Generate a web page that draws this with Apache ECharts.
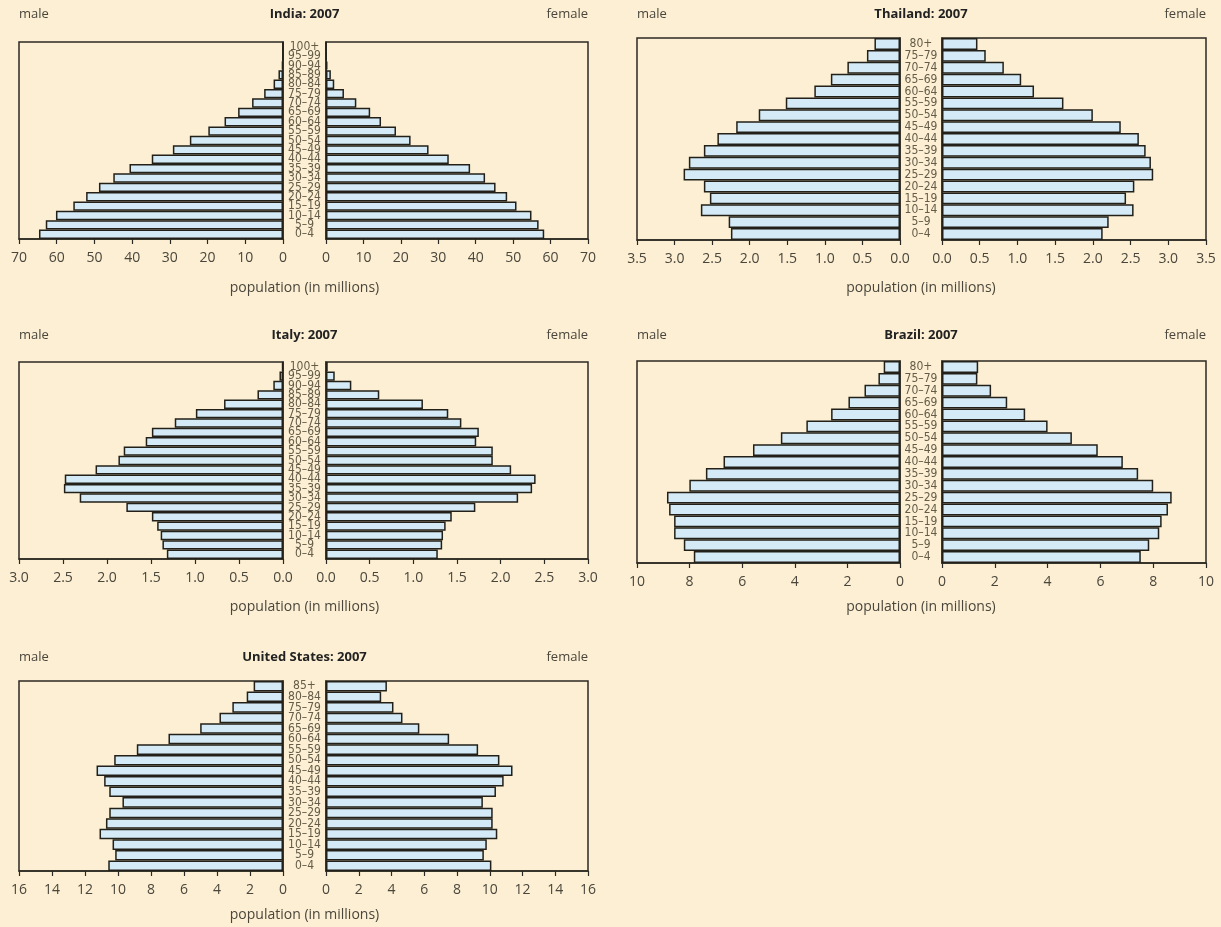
<!DOCTYPE html>
<html>
<head>
<meta charset="utf-8">
<script src="https://cdn.jsdelivr.net/npm/echarts@6/dist/echarts.min.js"></script>
<style>
	html, body { margin: 0; padding: 0; background: #fcefd3; }
	#chart { width: 1221px; height: 927px; }
</style>
</head>
<body>
<div id="chart"></div>
<script>
	// age groups, youngest first (bottom of the pyramid)
	var ages21 = ['0–4','5–9','10–14','15–19','20–24','25–29','30–34','35–39','40–44','45–49','50–54',
		'55–59','60–64','65–69','70–74','75–79','80–84','85–89','90–94','95–99','100+'];
	var ages17 = ['0–4','5–9','10–14','15–19','20–24','25–29','30–34','35–39','40–44','45–49','50–54',
		'55–59','60–64','65–69','70–74','75–79','80+'];
	var ages18 = ['0–4','5–9','10–14','15–19','20–24','25–29','30–34','35–39','40–44','45–49','50–54',
		'55–59','60–64','65–69','70–74','75–79','80–84','85+'];

	// population in millions
	var indiaMale   = [64.7, 62.9, 60.2, 55.6, 52.2, 48.8, 45.0, 40.7, 34.8, 29.2, 24.7, 19.8, 15.5, 11.9, 8.2, 5.0, 2.5, 1.2, 0.3, 0.05, 0.01];
	var indiaFemale = [58.3, 56.8, 54.9, 50.9, 48.4, 45.3, 42.5, 38.5, 32.8, 27.4, 22.6, 18.7, 14.7, 11.8, 8.1, 4.8, 2.2, 1.3, 0.4, 0.1, 0.02];

	var thaiMale   = [2.25, 2.28, 2.65, 2.53, 2.61, 2.88, 2.81, 2.61, 2.43, 2.18, 1.88, 1.52, 1.14, 0.92, 0.70, 0.44, 0.34];
	var thaiFemale = [2.13, 2.21, 2.54, 2.44, 2.55, 2.80, 2.77, 2.70, 2.61, 2.37, 2.00, 1.61, 1.22, 1.05, 0.82, 0.58, 0.47];

	var italyMale   = [1.32, 1.37, 1.39, 1.43, 1.49, 1.78, 2.31, 2.49, 2.48, 2.13, 1.87, 1.81, 1.56, 1.49, 1.23, 0.99, 0.67, 0.29, 0.11, 0.04, 0.01];
	var italyFemale = [1.28, 1.33, 1.34, 1.37, 1.44, 1.71, 2.20, 2.36, 2.40, 2.12, 1.91, 1.91, 1.72, 1.75, 1.55, 1.40, 1.11, 0.61, 0.29, 0.10, 0.02];

	var brazilMale   = [7.84, 8.22, 8.59, 8.59, 8.78, 8.86, 8.01, 7.38, 6.71, 5.59, 4.53, 3.56, 2.62, 1.96, 1.35, 0.82, 0.62];
	var brazilFemale = [7.53, 7.85, 8.23, 8.32, 8.56, 8.70, 8.00, 7.43, 6.85, 5.90, 4.92, 4.00, 3.15, 2.47, 1.86, 1.34, 1.37];

	var usMale   = [10.59, 10.17, 10.33, 11.12, 10.73, 10.53, 9.73, 10.53, 10.84, 11.30, 10.23, 8.86, 6.94, 5.02, 3.85, 3.07, 2.20, 1.78];
	var usFemale = [10.10, 9.64, 9.82, 10.46, 10.18, 10.18, 9.58, 10.38, 10.85, 11.39, 10.59, 9.29, 7.52, 5.70, 4.67, 4.12, 3.37, 3.72];

	var titles = ['India: 2007', 'Thailand: 2007', 'Italy: 2007', 'Brazil: 2007', 'United States: 2007'];
	var axisMax = [70, 3.5, 3.0, 10, 16];
	var axisStep = [10, 0.5, 0.5, 2, 2];

	var panels = [
		{ages: ages21, male: indiaMale,  female: indiaFemale,  col: 0, top: 42,  h: 197, head: 14,  pop: 288},
		{ages: ages17, male: thaiMale,   female: thaiFemale,   col: 1, top: 38,  h: 202, head: 14,  pop: 288},
		{ages: ages21, male: italyMale,  female: italyFemale,  col: 0, top: 362, h: 197, head: 335, pop: 607},
		{ages: ages17, male: brazilMale, female: brazilFemale, col: 1, top: 361, h: 202, head: 335, pop: 607},
		{ages: ages18, male: usMale,     female: usFemale,     col: 0, top: 681, h: 190, head: 657, pop: 915}
	];
	// x positions of the two halves of each column
	var cols = [
		{mLeft: 19,  mW: 264, fLeft: 326, fW: 262},
		{mLeft: 637, mW: 263, fLeft: 942, fW: 264}
	];

	var lineColor = '#2b2a22';
	var textColor = '#4a463c';
	var font = '"Open Sans", "DejaVu Sans", sans-serif';
	var ageFont = '"DejaVu Sans Condensed", "Liberation Sans Narrow", "DejaVu Sans", sans-serif';

	var grid = [], xAxis = [], yAxis = [], series = [], graphic = [];

	panels.forEach(function (p, i) {
		var c = cols[p.col];
		var dec = axisStep[i] < 1 ? 1 : 0;
		var fmt = function (v) { return v.toFixed(dec); };
		var gm = 2 * i, gf = 2 * i + 1;

		grid.push({left: c.mLeft, top: p.top, width: c.mW, height: p.h,
			show: true, borderColor: lineColor, borderWidth: 1.5, backgroundColor: 'transparent'});
		grid.push({left: c.fLeft, top: p.top, width: c.fW, height: p.h,
			show: true, borderColor: lineColor, borderWidth: 1.5, backgroundColor: 'transparent'});

		[gm, gf].forEach(function (g, k) {
			xAxis.push({
				gridIndex: g, type: 'value', min: 0, max: axisMax[i], interval: axisStep[i],
				inverse: k === 0,
				axisLine: {show: true, lineStyle: {color: lineColor, width: 1.5}},
				axisTick: {show: true, length: 5, lineStyle: {color: lineColor, width: 1.2}},
				axisLabel: {color: textColor, fontSize: 14, fontFamily: font, margin: 12, formatter: fmt},
				splitLine: {show: false}
			});
			yAxis.push({
				gridIndex: g, type: 'category', data: p.ages,
				position: k === 0 ? 'right' : 'left',
				axisLine: {show: true, lineStyle: {color: lineColor, width: 1.5}},
				axisTick: {show: false},
				axisLabel: k === 0 ? {show: false} : {
					show: true, interval: 0, align: 'center', margin: (c.fLeft - c.mLeft - c.mW) / 2,
					color: '#645c48', fontSize: 12, fontFamily: ageFont, lineHeight: 12
				}
			});
		});

		[p.male, p.female].forEach(function (d, k) {
			series.push({
				type: 'bar', xAxisIndex: 2 * i + k, yAxisIndex: 2 * i + k, data: d,
				barCategoryGap: '0%', silent: true,
				itemStyle: {color: '#d4eaf6', borderColor: '#222019', borderWidth: 1.5}
			});
		});

		var mid = (c.mLeft + c.mW + c.fLeft) / 2;
		graphic.push({type: 'text', x: mid, y: p.head,
			style: {text: titles[i], align: 'center', verticalAlign: 'middle',
				font: 'bold 13px ' + font, fill: '#222'}});
		graphic.push({type: 'text', x: c.mLeft, y: p.head,
			style: {text: 'male', align: 'left', verticalAlign: 'middle',
				font: '13px ' + font, fill: textColor}});
		graphic.push({type: 'text', x: c.fLeft + c.fW, y: p.head,
			style: {text: 'female', align: 'right', verticalAlign: 'middle',
				font: '13px ' + font, fill: textColor}});
		graphic.push({type: 'text', x: mid, y: p.pop,
			style: {text: 'population (in millions)', align: 'center', verticalAlign: 'middle',
				font: '14px ' + font, fill: textColor}});
	});

	var chart = echarts.init(document.getElementById('chart'));
	chart.setOption({
		backgroundColor: '#fcefd3',
		animation: false,
		grid: grid,
		xAxis: xAxis,
		yAxis: yAxis,
		series: series,
		graphic: graphic
	});
</script>
</body>
</html>
